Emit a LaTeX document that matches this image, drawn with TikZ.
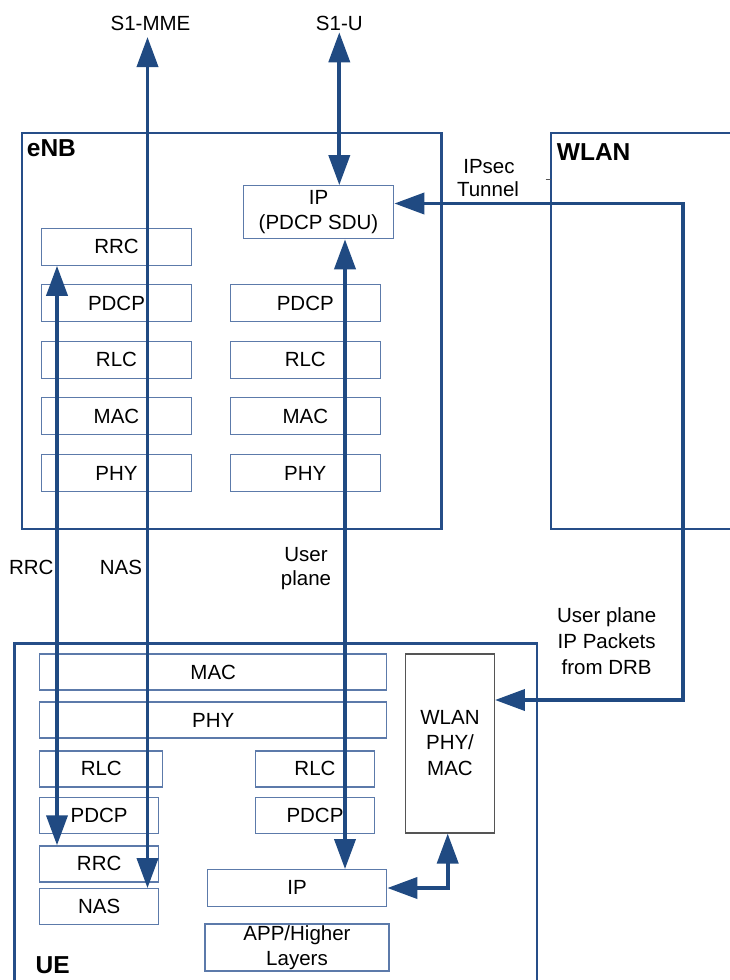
\documentclass[tikz,border=0pt]{standalone}
\usepackage{fontspec}
\setmainfont{Liberation Sans}
\usetikzlibrary{arrows.meta}
\definecolor{arrc}{RGB}{32,74,130}
\definecolor{boxc}{RGB}{92,122,170}
\definecolor{contc}{RGB}{38,78,136}
\definecolor{wlanc}{RGB}{85,85,85}
\tikzset{
  layer/.style={draw=boxc, line width=1.2pt, inner sep=0pt, font=\fontsize{20.5}{25.5}\selectfont, align=center},
  lbl/.style={inner sep=0pt, font=\fontsize{20.5}{25.5}\selectfont},
  blbl/.style={inner sep=0pt, font=\fontsize{24.5}{28}\selectfont\bfseries},
  cont/.style={draw=contc, line width=2.8pt, line join=miter},
  dbl/.style={draw=arrc, line width=3.8pt, line join=miter,
    {Triangle[length=30pt,width=21pt]}-{Triangle[length=30pt,width=21pt]}},
}
\begin{document}
\begin{tikzpicture}[x=1pt,y=-1pt]
\useasboundingbox[fill=white] (0,0) rectangle (730,980);

% containers
\draw[cont] (22,133) rectangle (441.5,529);
\draw[cont] (735,133) -- (551,133) -- (551,529) -- (735,529);
\draw[cont] (14.5,990) -- (14.5,643.3) -- (537,643.3) -- (537,990);
\draw[wlanc, line width=1pt] (545.5,179.3) -- (551,179.3);

% eNB layers
\node[layer, minimum width=150.5pt, minimum height=53pt] (eIP) at (318.5,212.2) {IP\\(PDCP SDU)};
\node[layer, minimum width=150.5pt, minimum height=37pt] (eRRC) at (116.5,246.7) {RRC};
\node[layer, minimum width=150.5pt, minimum height=37pt] (ePDCPa) at (116.5,303.3) {PDCP};
\node[layer, minimum width=150.5pt, minimum height=37pt] (eRLCa) at (116.5,359.7) {RLC};
\node[layer, minimum width=150.5pt, minimum height=37pt] (eMACa) at (116.5,416.3) {MAC};
\node[layer, minimum width=150.5pt, minimum height=37pt] (ePHYa) at (116.5,473) {PHY};
\node[layer, minimum width=150pt, minimum height=37pt] (ePDCPb) at (305.3,303.3) {PDCP};
\node[layer, minimum width=150pt, minimum height=37pt] (eRLCb) at (305.3,359.7) {RLC};
\node[layer, minimum width=150pt, minimum height=37pt] (eMACb) at (305.3,416.3) {MAC};
\node[layer, minimum width=150pt, minimum height=37pt] (ePHYb) at (305.3,473) {PHY};

% UE layers
\node[layer, minimum width=347pt, minimum height=36pt] (uMAC) at (213.2,672) {MAC};
\node[layer, minimum width=347pt, minimum height=36pt] (uPHY) at (213.2,720) {PHY};
\node[layer, minimum width=123pt, minimum height=36pt] (uRLCa) at (101.3,768.9) {RLC};
\node[layer, minimum width=119pt, minimum height=36pt] (uPDCPa) at (99.2,815.5) {PDCP};
\node[layer, minimum width=119pt, minimum height=36pt] (uRRC) at (99.2,863.9) {RRC};
\node[layer, minimum width=119pt, minimum height=36pt] (uNAS) at (99.2,906.7) {NAS};
\node[layer, minimum width=119pt, minimum height=36pt] (uRLCb) at (315,768.9) {RLC};
\node[layer, minimum width=119pt, minimum height=36pt] (uPDCPb) at (315,815.3) {PDCP};
\node[layer, minimum width=179.5pt, minimum height=36.5pt] (uIP) at (297,887.9) {IP};
\node[layer, minimum width=184pt, minimum height=47pt] (uAPP) at (297,947.5) {APP/Higher\\Layers};
\node[draw=wlanc, line width=1.1pt, inner sep=0pt, minimum width=89pt, minimum height=179pt] (uWLAN) at (449.9,743.5) {};
\node[lbl, align=center] (uWLANt) at (450,742.7) {WLAN\\PHY/\\MAC};

% labels
\node[lbl, anchor=base] (s1mme) at (150.5,30) {S1-MME};
\node[lbl, anchor=base] (s1u) at (339.3,30) {S1-U};
\node[blbl, anchor=base west] (enbl) at (26.7,156.7) {eNB};
\node[blbl, anchor=base west] (wlanl) at (556.7,160.7) {WLAN};
\node[blbl, anchor=base west] (uel) at (35.5,973.3) {UE};
\node[lbl, anchor=base] (ipsec1) at (489,173.3) {IPsec};
\node[lbl, anchor=base] (ipsec2) at (488,196.7) {Tunnel};
\node[lbl, anchor=base] (rrcl) at (31.3,574) {RRC};
\node[lbl, anchor=base] (nasl) at (121,574) {NAS};
\node[lbl, anchor=base] (up1) at (306,561.7) {User};
\node[lbl, anchor=base] (up2) at (306,585) {plane};
\node[lbl, anchor=base] (dr1) at (606.7,622.7) {User plane};
\node[lbl, anchor=base] (dr2) at (606.7,648.3) {IP Packets};
\node[lbl, anchor=base] (dr3) at (606.7,674) {from DRB};

% connector coordinates
\coordinate (nasTop) at (147.5,37);
\coordinate (s1uTop) at (339.3,32.3);
\coordinate (rrcX) at (57,500);
\coordinate (upX) at (345,500);
\coordinate (ipwl) at (447.7,888);
\coordinate (tunA) at (683.3,203.5);
\coordinate (tunB) at (683.3,700);

% connectors
\draw[dbl] (nasTop) -- (nasTop |- uNAS.north);
\draw[dbl] (s1uTop) -- (s1uTop |- eIP.north);
\draw[dbl] (eRRC.south -| rrcX) -- (uRRC.north -| rrcX);
\draw[dbl] (eIP.south -| upX) -- (uIP.north -| upX);
\draw[dbl] (uIP.east |- ipwl) -- (ipwl) -- (ipwl |- uWLAN.south);
\draw[dbl] (eIP.east |- tunA) -- (tunA) -- (tunB) -- (uWLAN.east |- tunB);
\end{tikzpicture}
\end{document}
